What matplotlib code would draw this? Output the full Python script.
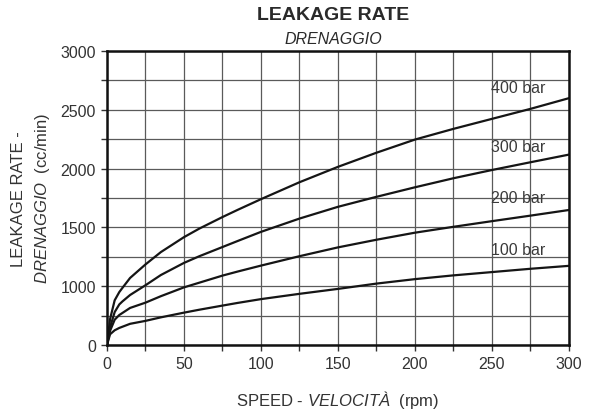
import matplotlib
matplotlib.use("Agg")
import matplotlib.pyplot as plt

plt.rcParams["font.family"] = ["Liberation Sans", "DejaVu Sans"]
plt.rcParams["mathtext.fontset"] = "custom"
plt.rcParams["mathtext.rm"] = "Liberation Sans"
plt.rcParams["mathtext.it"] = "Liberation Sans:italic"

# speed (rpm)
speed = [0, 2, 5, 8, 10, 15, 25, 35, 50, 60, 75, 85, 100, 125, 150, 175, 200, 225, 250, 275, 300]

# leakage curves, in axis units (bottom gridline of the chart is labelled "0")
bar_400 = [500, 720, 880, 950, 985, 1070, 1185, 1290, 1417, 1490, 1588, 1650, 1740, 1884, 2015,
           2135, 2247, 2338, 2423, 2508, 2599]
bar_300 = [500, 650, 780, 845, 870, 925, 1008, 1095, 1198, 1255, 1333, 1385, 1462, 1575, 1675,
           1760, 1841, 1918, 1988, 2054, 2119]
bar_200 = [500, 620, 715, 755, 772, 815, 860, 915, 990, 1030, 1090, 1125, 1175, 1255, 1330,
           1395, 1455, 1505, 1553, 1600, 1648]
bar_100 = [500, 591, 625, 645, 655, 680, 705, 735, 775, 800, 835, 858, 890, 935, 977,
           1022, 1060, 1092, 1120, 1148, 1173]

curve_names = ["400 bar", "300 bar", "200 bar", "100 bar"]
label_y = [2687, 2190, 1756, 1309]
label_x = 267

x_ticks = [0, 50, 100, 150, 200, 250, 300]
y_ticks = [500, 1000, 1500, 2000, 2500, 3000]
y_tick_labels = ["0", "1000", "1500", "2000", "2500", "3000"]

fig = plt.figure(figsize=(5.95, 4.14), dpi=100)
ax = fig.add_axes([0.1798, 0.1643, 0.7765, 0.7101])

for vals in [bar_400, bar_300, bar_200, bar_100]:
    ax.plot(speed, vals, color="#151515", lw=1.6, zorder=3,
            solid_joinstyle="round", solid_capstyle="round")

for name, ly in zip(curve_names, label_y):
    ax.text(label_x, ly, name, ha="center", va="center", fontsize=11.5,
            color="#3a3a3a", zorder=4)

ax.set_xlim(0, 300)
ax.set_ylim(500, 3000)
ax.set_xticks(x_ticks)
ax.set_xticks(range(0, 301, 25), minor=True)
ax.set_yticks(y_ticks)
ax.set_yticklabels(y_tick_labels)
ax.set_yticks(range(500, 3001, 250), minor=True)
ax.grid(True, which="both", color="#5a5a5a", lw=0.9, zorder=1)
ax.tick_params(which="both", direction="out", length=4, width=1, color="#333333")
ax.tick_params(labelsize=11.5, labelcolor="#333333", pad=4)

for s in ax.spines.values():
    s.set_linewidth(1.8)
    s.set_color("#111111")
    s.set_zorder(5)

ax.set_xlabel("SPEED - $\\mathit{VELOCITÀ}$  (rpm)", fontsize=12, color="#333333", labelpad=12)
ax.set_ylabel("LEAKAGE RATE -\n$\\mathit{DRENAGGIO}$  (cc/min)", fontsize=12,
              color="#333333", labelpad=6, linespacing=1.5)

fig.text(333 / 595, 1 - 16 / 414, "LEAKAGE RATE", ha="center", va="center",
         fontsize=14, fontweight="bold", color="#2a2a2a")
fig.text(333 / 595, 1 - 40 / 414, "DRENAGGIO", ha="center", va="center",
         fontsize=11.5, style="italic", color="#2a2a2a")

fig.savefig("out.png", dpi=100)
